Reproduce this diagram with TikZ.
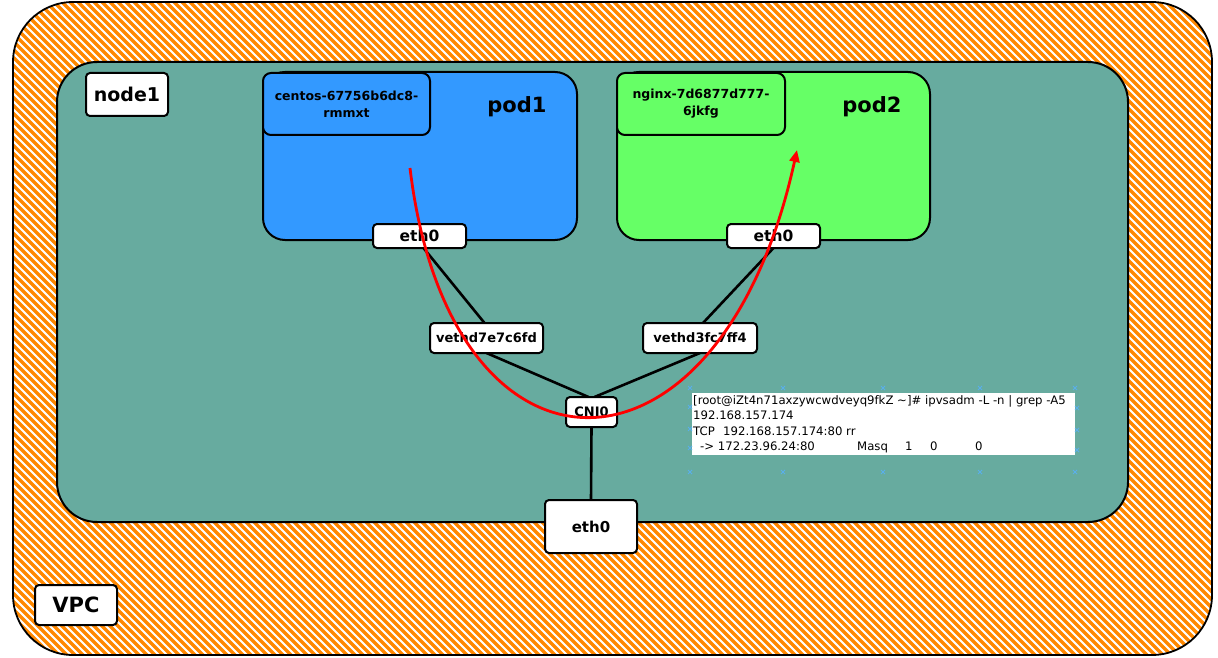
\documentclass[tikz,border=0pt]{standalone}
\usepackage{fontspec}
\setmainfont{DejaVu Sans}
\usetikzlibrary{arrows.meta}
\definecolor{vpcorange}{RGB}{255,136,0}
\definecolor{nodeteal}{HTML}{67AB9F}
\definecolor{podblue}{HTML}{3399FF}
\definecolor{podgreen}{HTML}{66FF66}
\definecolor{handleblue}{RGB}{90,175,235}
\begin{document}
\begin{tikzpicture}[x=1pt,y=-1pt,
  outline/.style={draw=black, line width=2pt},
  labelbox/.style={outline, fill=white, rounded corners=4pt, inner sep=0pt},
  podbox/.style={outline, rounded corners=22pt, inner sep=0pt},
  namebox/.style={outline, rounded corners=8pt, inner sep=0pt, align=center,
     font=\bfseries\fontsize{12.5}{17}\selectfont},
  podtitle/.style={font=\bfseries\fontsize{21}{24}\selectfont},
  ifbox/.style={labelbox, font=\bfseries\fontsize{15.5}{18}\selectfont},
  vethbox/.style={labelbox, font=\bfseries\fontsize{13}{16}\selectfont},
  wire/.style={draw=black, line width=2.6pt},
  flow/.style={draw=red, line width=2.8pt, -{Triangle[length=12pt,width=10pt]}},
  handle/.style={draw=handleblue, line width=0.9pt}
]
\useasboundingbox (0,0) rectangle (1218,658);
\fill[white] (0,0) rectangle (1218,658);
% VPC hatched area
\begin{scope}
  \clip[rounded corners=60pt] (13,2) rectangle (1212,655);
  \foreach \c in {-700,-692,...,1220}
    \draw[vpcorange, line width=3.5pt] (\c,0) -- ++(700,700);
\end{scope}
\draw[line width=1.8pt, rounded corners=60pt] (13,2) rectangle (1212,655);

% node1 area
\node[outline, fill=nodeteal, rounded corners=40pt, inner sep=0pt,
      minimum width=1071pt, minimum height=460pt] (node1) at (592.5,292) {};
\node[labelbox, minimum width=82pt, minimum height=43pt,
      font=\bfseries\fontsize{19}{22}\selectfont] (node1lbl) at (127,94.5) {node1};

% pods
\node[podbox, fill=podblue, minimum width=314pt, minimum height=168pt] (pod1) at (420,156) {};
\node[namebox, fill=podblue, minimum width=167pt, minimum height=62pt] (pod1name) at (346.5,104) {centos-67756b6dc8-\\rmmxt};
\node[podtitle] (pod1t) at (517,107) {pod1};

\node[podbox, fill=podgreen, minimum width=313pt, minimum height=168pt] (pod2) at (773.5,156) {};
\node[namebox, fill=podgreen, minimum width=168pt, minimum height=62pt] (pod2name) at (701,104) {nginx-7d6877d777-\\6jkfg};
\node[podtitle] (pod2t) at (872,107) {pod2};

% interface node positions
\coordinate (e1) at (419.5,236);
\coordinate (e2) at (773.5,236);
\coordinate (v1) at (486.5,338);
\coordinate (v2) at (700,338);
\coordinate (cni) at (591.5,412);
\coordinate (eb) at (591,526.5);

% wires (drawn first, boxes on top)
\draw[wire] ([xshift=4pt,yshift=-12pt]e1) -- ([xshift=-2pt,yshift=15pt]v1);
\draw[wire] ([yshift=-15pt]v1) -- ([xshift=-3pt,yshift=15pt]cni);
\draw[wire] ([yshift=-12pt]e2) -- ([xshift=3pt,yshift=15pt]v2);
\draw[wire] ([yshift=-15pt]v2) -- ([xshift=3pt,yshift=15pt]cni);
\draw[wire] ([yshift=-15pt]cni) -- ([yshift=26pt]eb);

\node[ifbox, minimum width=93pt, minimum height=24pt] (e1box) at (e1) {eth0};
\node[ifbox, minimum width=93pt, minimum height=24pt] (e2box) at (e2) {eth0};
\node[vethbox, minimum width=113pt, minimum height=30pt] (v1box) at (v1) {vethd7e7c6fd};
\node[vethbox, minimum width=114pt, minimum height=30pt] (v2box) at (v2) {vethd3fc7ff4};
\node[vethbox, minimum width=51pt, minimum height=30pt] (cnibox) at (cni) {CNI0};
\node[labelbox, minimum width=92pt, minimum height=53pt,
      font=\bfseries\fontsize{15}{18}\selectfont] (ebbox) at (eb) {eth0};

% VPC label
\node[labelbox, minimum width=82pt, minimum height=40pt,
      font=\bfseries\fontsize{21}{24}\selectfont] (vpc) at (76,605) {VPC};

% terminal output box
\node[fill=white, inner sep=0pt, minimum width=383pt, minimum height=62pt] (term) at (883.5,424) {};
\node[anchor=north west, inner sep=0pt, align=left,
      font=\fontsize{11.7}{15.5}\selectfont] (termtxt) at (693,395)
 {[root@iZt4n71axzywcwdveyq9fkZ \textasciitilde]\# ipvsadm -L -n | grep -A5\\
  192.168.157.174\\
  \makebox[30pt][l]{TCP}192.168.157.174:80 rr\\
  \hspace*{7pt}\makebox[157pt][l]{-> 172.23.96.24:80}\makebox[48pt][l]{Masq}\makebox[25pt][l]{1}\makebox[45pt][l]{0}0};
\foreach \hx/\hy in {690/388,783/388,883/388,980/388,1075/388,
                     690/472,783/472,883/472,980/472,1075/472,
                     690/407,690/429,690/448,1077/408,1077/430,1077/450}
  \draw[handle] (\hx-2,\hy-2) -- (\hx+2,\hy+2) (\hx-2,\hy+2) -- (\hx+2,\hy-2);

% red flow
\coordinate (rs) at (410,168);
\coordinate (re) at (797,150);
\draw[flow] (rs) .. controls (450,502) and (720,502) .. (re);
\end{tikzpicture}
\end{document}
